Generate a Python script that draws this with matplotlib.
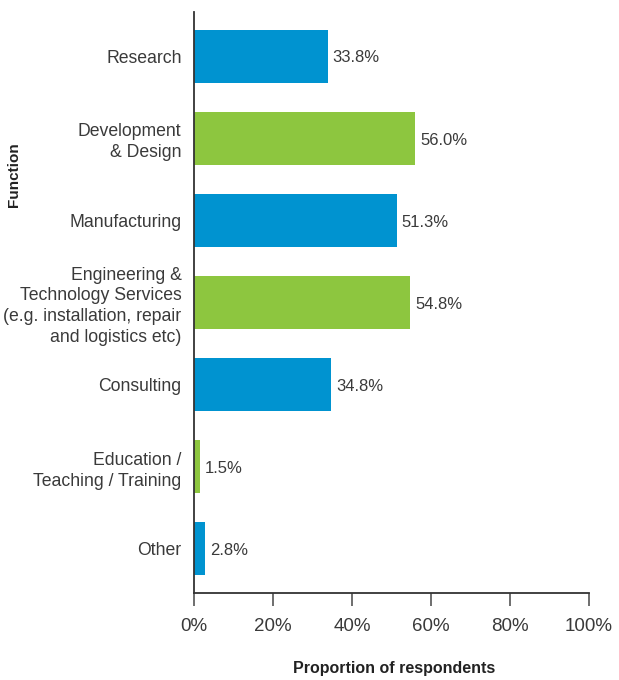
import matplotlib
matplotlib.use("Agg")
from matplotlib import pyplot as plt

# survey responses by function
functions = [
    "Research",
    "Development\n& Design",
    "Manufacturing",
    "Engineering &\nTechnology Services\n(e.g. installation, repair\nand logistics etc)",
    "Consulting",
    "Education /\nTeaching / Training",
    "Other",
]
shares = [33.8, 56.0, 51.3, 54.8, 34.8, 1.5, 2.8]
x_ticks = [0, 20, 40, 60, 80, 100]
x_tick_labels = ["0%", "20%", "40%", "60%", "80%", "100%"]

BLUE = "#0093d0"
GREEN = "#8dc63f"
TEXT = "#3a3a3a"

plt.rcParams["font.family"] = ["Liberation Sans", "DejaVu Sans"]

fig = plt.figure(figsize=(6.19, 6.8), dpi=100)
ax = fig.add_axes([194 / 619, 1 - 593 / 680, 395 / 619, 581 / 680])

colors = [BLUE if i % 2 == 0 else GREEN for i in range(len(functions))]
ypos = list(range(len(functions)))
ax.barh(ypos, shares, height=0.65, color=colors)

for y, v in zip(ypos, shares):
    ax.text(v + 1.2, y + 0.02, f"{v:.1f}%", va="center", ha="left",
            fontsize=12, color=TEXT)

ax.set_xlim(0, 100)
ax.set_ylim(len(functions) - 0.46, -0.54)
ax.set_yticks(ypos)
ax.set_yticklabels(functions, fontsize=12.7, color=TEXT, linespacing=1.3)
ax.tick_params(axis="y", length=0, pad=9)
ax.set_xticks(x_ticks)
ax.set_xticklabels(x_tick_labels, fontsize=13.5, color=TEXT)
ax.tick_params(axis="x", length=9, width=1.2, color="#555555", pad=9,
               direction="out")

for side in ["top", "right"]:
    ax.spines[side].set_visible(False)
for side in ["left", "bottom"]:
    ax.spines[side].set_color("#333333")
    ax.spines[side].set_linewidth(1.3)

fig.text(394 / 619, 1 - 668 / 680, "Proportion of respondents",
         ha="center", va="center", fontsize=11.5, fontweight="bold",
         color="#222222")
fig.text(14 / 619, 1 - 175 / 680, "Function", rotation=90,
         ha="center", va="center", fontsize=11, fontweight="bold",
         color="#222222")

fig.savefig("out.png", dpi=100)
